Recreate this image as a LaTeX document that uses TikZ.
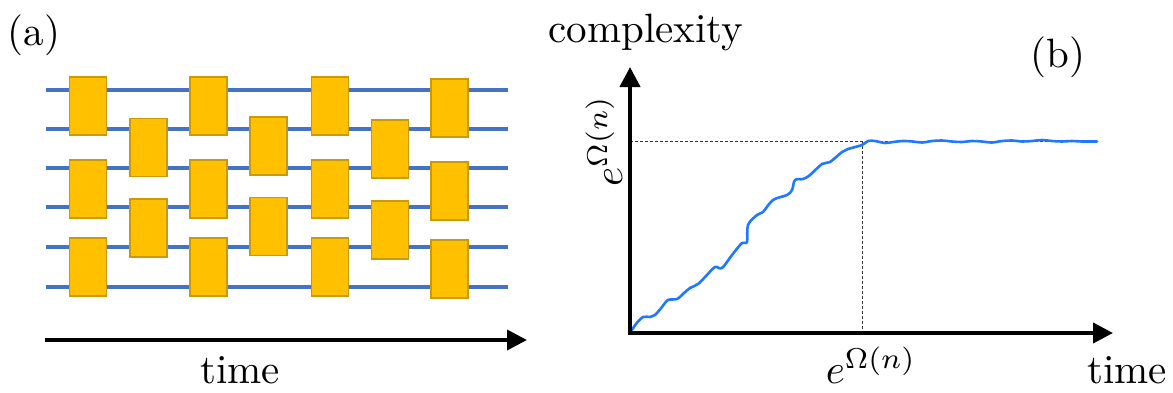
\documentclass[tikz,border=0pt]{standalone}
\usetikzlibrary{arrows.meta}

\definecolor{wireblue}{HTML}{4472C4}
\definecolor{gatefill}{HTML}{FFC000}
\definecolor{gateedge}{HTML}{C99A06}
\definecolor{curveblue}{HTML}{1F78FF}

\tikzset{
  lbl/.style={inner sep=0pt, font=\normalsize, scale=4.1},
  wire/.style={wireblue, line width=4pt},
  gate/.style={draw=gateedge, fill=gatefill, line width=1.4pt, inner sep=0pt,
               minimum width=37pt, minimum height=58pt},
  bigarrow/.style={-{Triangle[length=20pt,width=20pt]}, line width=4pt},
  guide/.style={line width=1pt, black!80, dash pattern=on 3pt off 2pt},
  growth/.style={curveblue, line width=2.6pt, line join=round, line cap=round},
}

\begin{document}
\begin{tikzpicture}[x=1pt, y=-1pt]
\useasboundingbox (0,0) rectangle (1173,392);

% ---------------- random circuit ----------------
\foreach \i/\y in {1/90,2/129,3/168,4/207,5/247,6/287}{
  \coordinate (w\i l) at (46,\y);
  \coordinate (w\i r) at (508,\y);
  \draw[wire] (w\i l) -- (w\i r);
}

% odd layers (wires 1-2, 3-4, 5-6)
\foreach \c/\x in {1/88,3/208.5,5/330}{
  \node[gate] (g\c a) at (\x,106) {};
  \node[gate] (g\c b) at (\x,189) {};
  \node[gate] (g\c c) at (\x,267) {};
}
\node[gate] (g7a) at (449.5,108) {};
\node[gate] (g7b) at (449.5,191) {};
\node[gate] (g7c) at (449.5,269) {};

% even layers (wires 2-3, 4-5)
\node[gate] (g2a) at (148.5,147.5) {};
\node[gate] (g2b) at (148.5,228) {};
\node[gate] (g4a) at (268.5,146) {};
\node[gate] (g4b) at (268.5,226.5) {};
\node[gate] (g6a) at (390,149) {};
\node[gate] (g6b) at (390,230) {};

% time axis of the circuit
\coordinate (ta) at (45,340);
\coordinate (tb) at (527,340);
\draw[bigarrow, line width=3.6pt] (ta) -- (tb);
\node[lbl, anchor=base] (timeA) at (240,383) {time};
\node[lbl, anchor=base] (labA) at (34,45) {(a)};

% ---------------- complexity growth ----------------
\coordinate (O) at (630,333);
\coordinate (ytop) at (630,67);
\coordinate (xend) at (1113,333);
\coordinate (sat) at (862,141);
\coordinate (yl) at (630,141);
\coordinate (xl) at (862,333);
\coordinate (platEnd) at (1097,141);

\draw[guide] (yl) -- (platEnd);
\draw[guide] (sat) -- (xl);

\draw[growth] plot[smooth, tension=0.55] coordinates {
  (630,333) (636,324) (643,317) (650,317) (655,315) (662,307) (668,300)
  (677,299) (684,293) (690,288) (698,284) (706,276) (715,267) (722,268)
  (732,255) (742,243) (747,242) (748,225) (757,215) (763,212) (773,200)
  (787,195) (792,190) (795,180) (803,179) (810,175) (822,164) (830,162)
  (842,152) (848,149) (862,145) (868,141) (875,141) (885,143) (893,142)
  (903,141) (913,141.5) (922,142.5) (932,141) (942,140.5) (952,141.5)
  (962,142) (972,141) (982,141.5) (992,142.5) (1002,141) (1012,140.5)
  (1022,141.5) (1032,141) (1042,140) (1052,141) (1062,141.5) (1072,141)
  (1082,141.5) (1097,141.5)
};

\draw[bigarrow] ([yshift=2pt]O) -- (ytop);
\draw[bigarrow] ([xshift=-2pt]O) -- (xend);

\node[lbl, anchor=base] (ylab) at (646,42) {complexity};
\node[lbl, anchor=base] (labB) at (1058,67) {(b)};
\node[lbl, anchor=base] (timeB) at (1127,383) {time};
\node[lbl, anchor=base] (xtick) at (871,383) {$e^{\Omega(n)}$};
\node[lbl, anchor=base, rotate=90] (ytick) at (622,141) {$e^{\Omega(n)}$};
\end{tikzpicture}
\end{document}
